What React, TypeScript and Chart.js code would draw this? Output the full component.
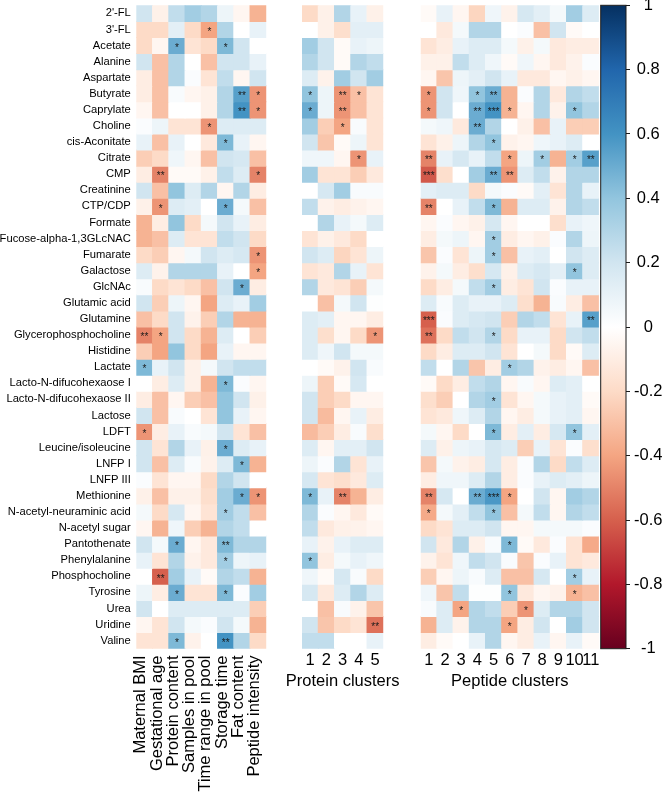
import React, { useEffect, useRef } from 'react';
import { Chart, registerables } from 'chart.js';

Chart.register(...registerables);
Chart.defaults.font.family = '"Liberation Sans", Arial, sans-serif';
Chart.defaults.color = '#000';

const FONT = '"Liberation Sans", Arial, sans-serif';

const metabolites = [
  "2'-FL", "3'-FL", 'Acetate', 'Alanine', 'Aspartate', 'Butyrate', 'Caprylate', 'Choline',
  'cis-Aconitate', 'Citrate', 'CMP', 'Creatinine', 'CTP/CDP', 'Formate', 'Fucose-alpha-1,3GLcNAC',
  'Fumarate', 'Galactose', 'GlcNAc', 'Glutamic acid', 'Glutamine', 'Glycerophosphocholine',
  'Histidine', 'Lactate', 'Lacto-N-difucohexaose I', 'Lacto-N-difucohexaose II', 'Lactose', 'LDFT',
  'Leucine/isoleucine', 'LNFP I', 'LNFP III', 'Methionine', 'N-acetyl-neuraminic acid',
  'N-acetyl sugar', 'Pantothenate', 'Phenylalanine', 'Phosphocholine', 'Tyrosine', 'Urea',
  'Uridine', 'Valine',
];

const clinicalLabels = [
  'Maternal BMI', 'Gestational age', 'Protein content', 'Samples in pool',
  'Time range in pool', 'Storage time', 'Fat content', 'Peptide intensity',
];
const proteinLabels = ['1', '2', '3', '4', '5'];
const peptideLabels = ['1', '2', '3', '4', '5', '6', '7', '8', '9', '10', '11'];
const colorbarTicks = [1, 0.8, 0.6, 0.4, 0.2, 0, -0.2, -0.4, -0.6, -0.8, -1];

// rows follow metabolites; columns follow clinicalLabels
const clinicalValues: number[][] = [
  [0.2, -0.08, 0.25, 0.35, 0.3, 0.08, -0.05, -0.35],
  [-0.2, -0.2, 0.12, -0.2, -0.4, 0.3, 0, 0.1],
  [-0.2, -0.05, 0.5, -0.15, -0.2, 0.45, 0.2, 0],
  [0.2, -0.3, 0.3, 0, -0.3, 0.2, 0.2, 0.1],
  [-0.1, -0.3, 0.3, 0.02, -0.15, 0.25, -0.05, 0.2],
  [-0.1, -0.3, 0.03, -0.05, -0.08, 0.3, 0.55, -0.45],
  [-0.05, -0.3, 0, 0, -0.08, 0.3, 0.6, -0.45],
  [0.02, 0.08, -0.15, -0.15, -0.45, 0.15, 0.15, 0.15],
  [0.1, -0.3, 0.1, 0, -0.12, 0.45, 0.1, -0.05],
  [-0.25, -0.2, 0.07, -0.05, -0.3, 0.2, 0.18, -0.3],
  [-0.1, -0.5, -0.03, -0.03, -0.08, 0.25, 0.15, -0.5],
  [0.2, -0.3, 0.4, 0.15, 0.3, -0.05, 0.3, -0.1],
  [-0.08, -0.45, 0.15, 0.12, 0, 0.5, 0.05, -0.3],
  [-0.35, -0.1, 0.4, -0.2, 0.05, 0.2, 0.1, -0.1],
  [-0.35, -0.3, 0.15, -0.15, -0.15, 0.25, 0.2, -0.2],
  [-0.2, -0.25, -0.05, 0.05, 0.2, 0.15, 0.18, -0.45],
  [0.15, -0.07, 0.3, 0.3, 0.3, 0.1, 0, -0.4],
  [0.03, -0.2, -0.15, -0.2, -0.3, 0.2, 0.5, -0.1],
  [0.2, -0.25, 0.08, -0.05, -0.4, 0.15, 0.1, 0.35],
  [-0.3, -0.2, 0.2, -0.07, -0.25, 0.3, -0.35, -0.35],
  [-0.5, -0.4, 0.2, -0.2, -0.35, 0.15, 0, -0.25],
  [-0.25, -0.4, 0.4, -0.2, -0.4, 0.1, -0.05, -0.05],
  [0.45, 0.1, 0.2, -0.08, 0.05, 0.2, 0.25, 0.25],
  [0, -0.1, 0.15, -0.08, -0.35, 0.45, 0.02, -0.05],
  [-0.1, -0.3, -0.05, -0.25, -0.3, 0.4, 0.2, -0.08],
  [0.2, -0.3, 0.03, 0, -0.15, 0.4, 0.1, -0.05],
  [-0.45, -0.1, 0.1, 0.03, 0.05, 0.2, -0.15, -0.3],
  [0.2, -0.15, 0.3, 0.1, -0.08, 0.5, 0.15, 0.1],
  [0.2, -0.3, 0.15, 0.03, -0.07, 0.15, 0.45, -0.35],
  [0.02, -0.15, -0.05, -0.05, -0.2, 0.3, 0.2, 0],
  [-0.08, -0.3, -0.08, -0.08, -0.18, 0.35, 0.5, -0.45],
  [0.05, -0.2, 0.18, -0.05, -0.15, 0.35, 0.25, -0.3],
  [-0.05, -0.35, 0.07, -0.25, -0.35, 0.3, 0.25, 0],
  [0.2, 0.05, 0.5, -0.05, -0.12, 0.45, 0.3, 0.3],
  [0.1, -0.15, 0.3, -0.07, -0.12, 0.35, 0.08, 0.1],
  [0, -0.6, 0.35, 0.1, -0.03, 0.3, 0.25, -0.35],
  [0.08, -0.1, 0.5, -0.15, -0.15, 0.45, 0.02, 0.35],
  [0.2, 0, 0.15, 0.15, 0.15, 0.15, 0.15, -0.25],
  [-0.05, -0.15, 0.2, 0.05, 0.02, 0.2, 0.05, -0.35],
  [-0.15, -0.15, 0.45, -0.07, 0, 0.6, 0.3, -0.2],
];

// rows follow metabolites; columns are protein clusters 1-5
const proteinValues: number[][] = [
  [-0.2, -0.08, 0.3, 0.1, -0.08],
  [0, -0.08, -0.18, 0.12, 0.12],
  [0.35, 0.2, -0.03, 0.1, 0.08],
  [0.3, 0.2, -0.03, 0.3, 0.25],
  [0.15, -0.07, 0.35, 0.2, 0.35],
  [0.4, 0.08, -0.45, -0.3, -0.15],
  [0.5, 0.08, -0.45, -0.3, -0.15],
  [0.35, -0.25, -0.4, 0.03, -0.15],
  [0.2, -0.28, -0.03, 0.08, -0.15],
  [0.07, 0.07, -0.05, -0.45, 0.1],
  [0.35, -0.15, -0.15, -0.25, -0.12],
  [0, 0.18, 0.35, 0.03, 0.03],
  [0.25, -0.07, -0.1, -0.07, -0.05],
  [0, 0.3, 0.1, 0.05, 0.15],
  [-0.15, -0.08, -0.12, -0.2, 0],
  [0.2, 0.15, -0.22, -0.15, 0.08],
  [-0.15, -0.12, 0.3, 0.1, -0.15],
  [0.3, -0.12, -0.15, -0.25, 0.05],
  [0, -0.3, 0.05, 0.2, 0.01],
  [0.15, 0.12, -0.05, -0.05, -0.1],
  [0.15, -0.18, -0.05, -0.2, -0.45],
  [0.15, 0.07, 0.2, 0.05, 0.05],
  [0, -0.03, -0.07, 0.2, 0.03],
  [0.08, -0.25, -0.03, 0.18, 0],
  [0.2, -0.25, -0.2, -0.05, -0.05],
  [0.2, -0.32, -0.05, 0.1, -0.1],
  [-0.32, -0.25, -0.1, 0.03, -0.18],
  [0.15, -0.05, 0.12, 0.12, 0.2],
  [0.08, 0.02, 0.3, -0.15, 0.1],
  [0.18, -0.15, -0.18, -0.12, 0.15],
  [0.45, 0.1, -0.5, -0.35, -0.1],
  [0.3, 0.02, -0.05, -0.12, -0.03],
  [0.25, -0.12, -0.08, -0.07, -0.05],
  [0.1, -0.07, 0.1, 0.15, 0.15],
  [0.4, -0.1, 0.05, 0.1, 0.07],
  [0.07, -0.03, 0.18, 0.03, -0.2],
  [0.18, -0.12, 0.15, 0.3, 0.15],
  [0, -0.3, 0.03, -0.07, -0.28],
  [0.2, -0.28, -0.2, -0.15, -0.55],
  [0.25, 0.25, 0, 0, 0.1],
];

// rows follow metabolites; columns are peptide clusters 1-11
const peptideValues: number[][] = [
  [-0.03, 0.1, -0.05, -0.22, 0.07, -0.07, 0.18, 0.12, 0.05, 0.35, 0.15],
  [0, -0.12, 0.05, 0.3, 0.3, 0, 0.02, -0.3, 0.2, -0.03, 0],
  [-0.15, -0.1, 0.1, 0.15, 0.15, 0.05, -0.08, 0.05, -0.12, -0.1, -0.1],
  [-0.08, -0.08, 0.25, 0.15, 0.07, -0.03, 0.07, -0.05, -0.12, -0.07, 0.02],
  [-0.05, -0.28, 0.08, 0.12, 0.2, 0.1, -0.12, -0.12, -0.05, -0.08, -0.05],
  [-0.45, 0.2, 0.07, 0.4, 0.5, -0.35, 0.02, 0.3, -0.12, 0.3, 0.25],
  [-0.45, 0.2, 0, 0.5, 0.6, -0.35, -0.05, 0.3, -0.07, 0.4, 0.3],
  [0.05, 0.07, -0.12, 0.5, 0.3, 0, -0.08, -0.3, 0.1, -0.25, -0.25],
  [-0.15, -0.08, 0.08, 0.3, 0.4, -0.07, -0.05, 0.07, 0.1, 0.15, 0],
  [-0.5, 0.1, 0.18, 0.1, 0.25, -0.4, 0.08, 0.35, -0.35, 0.35, 0.55],
  [-0.62, -0.18, 0, 0.35, 0.5, -0.45, 0.15, 0.25, -0.07, 0.3, 0.3],
  [0.12, 0.15, 0.15, -0.2, 0.05, 0.02, -0.03, 0.12, -0.15, 0.3, 0.1],
  [-0.5, 0, 0.1, 0.25, 0.45, -0.35, 0.15, 0.15, -0.07, 0.3, 0.25],
  [-0.05, 0.02, -0.05, -0.08, 0.18, -0.05, 0, 0, -0.18, 0.1, 0.07],
  [-0.1, 0.05, 0.08, -0.05, 0.35, -0.1, -0.05, -0.08, 0.02, 0.3, 0.08],
  [-0.28, 0.02, -0.15, 0.08, 0.35, -0.3, 0.1, 0.12, 0, 0.2, 0.15],
  [-0.07, 0.05, -0.1, -0.18, 0.18, -0.08, 0.15, 0.18, 0.12, 0.4, 0.15],
  [-0.2, -0.1, 0.05, 0.25, 0.35, -0.1, -0.15, 0.2, 0.02, 0.1, 0.1],
  [0.15, 0.03, 0.15, 0.1, 0.1, 0.15, -0.18, -0.35, 0.03, -0.1, -0.3],
  [-0.6, 0.02, 0.15, 0.18, 0.2, -0.25, 0.3, 0.25, -0.15, 0.1, 0.55],
  [-0.55, -0.2, 0.25, 0.2, 0.3, -0.2, 0.1, 0.1, -0.2, 0.2, 0.25],
  [-0.2, -0.1, 0.15, 0.15, 0.2, -0.15, 0, 0.05, -0.2, -0.03, 0.15],
  [0.25, 0, 0.3, -0.28, -0.1, 0.35, 0.3, -0.07, -0.1, -0.05, -0.3],
  [-0.03, -0.2, -0.1, 0.25, 0.3, -0.05, 0.03, -0.05, 0.15, 0.12, 0],
  [-0.18, -0.25, 0, 0.3, 0.35, -0.15, -0.05, 0.05, 0.1, 0.12, -0.03],
  [-0.15, -0.12, 0.07, 0.15, 0.3, -0.05, -0.1, 0.05, 0.1, 0.12, -0.05],
  [0.05, -0.05, -0.2, 0, 0.45, -0.1, 0.12, -0.1, 0.18, 0.4, 0.12],
  [0.15, -0.08, 0.08, 0.1, 0.18, 0.15, -0.25, 0.1, -0.15, 0.02, -0.18],
  [-0.28, 0.05, -0.07, -0.1, 0.18, -0.1, 0.02, 0.3, -0.2, 0.25, 0.15],
  [-0.1, 0.07, 0.07, 0.15, 0.3, -0.1, 0.02, 0.1, 0.15, 0.12, 0.08],
  [-0.5, 0.18, 0, 0.5, 0.58, -0.4, 0, 0.2, -0.05, 0.35, 0.3],
  [-0.38, 0.05, 0.12, 0.25, 0.4, -0.3, 0.05, 0.25, -0.05, 0.3, 0.25],
  [-0.2, -0.15, 0.15, 0.15, 0.2, -0.05, -0.05, 0.05, 0.05, 0.05, 0.02],
  [0.2, -0.12, 0.3, -0.08, 0.03, 0.45, -0.03, -0.12, 0.02, -0.15, -0.38],
  [-0.07, -0.15, 0.07, 0.25, 0.2, 0.03, -0.28, 0.02, 0.1, -0.15, -0.12],
  [-0.25, -0.05, 0.08, 0.03, 0.15, -0.3, -0.3, 0.18, 0, 0.35, 0.1],
  [0.07, -0.28, 0.25, 0.01, 0.01, 0.4, -0.12, -0.05, -0.07, -0.35, -0.3],
  [0.03, 0.15, -0.4, 0.3, 0.25, -0.25, -0.45, 0.15, 0.3, 0.3, 0.2],
  [-0.35, 0.15, -0.07, 0.3, 0.3, -0.4, -0.1, 0.2, 0, 0.35, 0.2],
  [-0.1, -0.03, 0, 0.1, 0.3, -0.05, -0.1, 0.1, -0.05, 0.1, -0.03],
];

// significance marks: [metabolite, column index, stars]
const clinicalStars: [string, number, string][] = [
  ["3'-FL", 4, '*'], ['Acetate', 2, '*'], ['Acetate', 5, '*'],
  ['Butyrate', 6, '**'], ['Butyrate', 7, '*'], ['Caprylate', 6, '**'], ['Caprylate', 7, '*'],
  ['Choline', 4, '*'], ['cis-Aconitate', 5, '*'], ['CMP', 1, '**'], ['CMP', 7, '*'],
  ['CTP/CDP', 1, '*'], ['CTP/CDP', 5, '*'], ['Fumarate', 7, '*'], ['Galactose', 7, '*'],
  ['GlcNAc', 6, '*'], ['Glycerophosphocholine', 0, '**'], ['Glycerophosphocholine', 1, '*'],
  ['Lactate', 0, '*'], ['Lacto-N-difucohexaose I', 5, '*'], ['LDFT', 0, '*'],
  ['Leucine/isoleucine', 5, '*'], ['LNFP I', 6, '*'], ['Methionine', 6, '*'], ['Methionine', 7, '*'],
  ['N-acetyl-neuraminic acid', 5, '*'], ['Pantothenate', 2, '*'], ['Pantothenate', 5, '**'],
  ['Phenylalanine', 5, '*'], ['Phosphocholine', 1, '**'], ['Tyrosine', 2, '*'], ['Tyrosine', 5, '*'],
  ['Valine', 2, '*'], ['Valine', 5, '**'],
];
const proteinStars: [string, number, string][] = [
  ['Butyrate', 0, '*'], ['Butyrate', 2, '**'], ['Butyrate', 3, '*'],
  ['Caprylate', 0, '*'], ['Caprylate', 2, '**'], ['Choline', 2, '*'], ['Citrate', 3, '*'],
  ['Glycerophosphocholine', 4, '*'], ['Methionine', 0, '*'], ['Methionine', 2, '**'],
  ['Phenylalanine', 0, '*'], ['Uridine', 4, '**'],
];
const peptideStars: [string, number, string][] = [
  ['Butyrate', 0, '*'], ['Butyrate', 3, '*'], ['Butyrate', 4, '**'],
  ['Caprylate', 0, '*'], ['Caprylate', 3, '**'], ['Caprylate', 4, '***'], ['Caprylate', 5, '*'], ['Caprylate', 9, '*'],
  ['Choline', 3, '**'], ['cis-Aconitate', 4, '*'],
  ['Citrate', 0, '**'], ['Citrate', 5, '*'], ['Citrate', 7, '*'], ['Citrate', 9, '*'], ['Citrate', 10, '**'],
  ['CMP', 0, '***'], ['CMP', 4, '**'], ['CMP', 5, '**'], ['CTP/CDP', 0, '**'], ['CTP/CDP', 4, '*'],
  ['Fucose-alpha-1,3GLcNAC', 4, '*'], ['Fumarate', 4, '*'], ['Galactose', 9, '*'], ['GlcNAc', 4, '*'],
  ['Glutamine', 0, '***'], ['Glutamine', 10, '**'], ['Glycerophosphocholine', 0, '**'],
  ['Glycerophosphocholine', 4, '*'], ['Lactate', 5, '*'], ['Lacto-N-difucohexaose II', 4, '*'],
  ['LDFT', 4, '*'], ['LDFT', 9, '*'], ['Methionine', 0, '**'], ['Methionine', 3, '**'],
  ['Methionine', 4, '***'], ['Methionine', 5, '*'], ['N-acetyl-neuraminic acid', 0, '*'],
  ['N-acetyl-neuraminic acid', 4, '*'], ['Pantothenate', 5, '*'], ['Phosphocholine', 9, '*'],
  ['Tyrosine', 5, '*'], ['Tyrosine', 9, '*'], ['Urea', 2, '*'], ['Urea', 6, '*'], ['Uridine', 5, '*'],
];

const RDBU = ['#67001F', '#B2182B', '#D6604D', '#F4A582', '#FDDBC7', '#FFFFFF', '#D1E5F0', '#92C5DE', '#4393C3', '#2166AC', '#053061'];

function hexToRgb(h: string) {
  return [parseInt(h.slice(1, 3), 16), parseInt(h.slice(3, 5), 16), parseInt(h.slice(5, 7), 16)];
}
function colorFor(v: number) {
  const t = ((Math.max(-1, Math.min(1, v)) + 1) / 2) * 10;
  const i = Math.min(9, Math.floor(t));
  const f = t - i;
  const a = hexToRgb(RDBU[i]);
  const b = hexToRgb(RDBU[i + 1]);
  const c = a.map((x, k) => Math.round(x + (b[k] - x) * f));
  return `rgb(${c[0]},${c[1]},${c[2]})`;
}

const H = 794;
const TOP = 5.3;
const BOTTOM = 648.7;
const BIG = 16.5;

function heatmapConfig(p: {
  labels: string[]; values: number[][]; stars: [string, number, string][];
  showRows: boolean; rotate: boolean; title?: string; padLeft: number; padRight: number;
}): any {
  const datasets = p.values.map((row, r) => ({
    data: row.map(() => [r, r + 1]),
    backgroundColor: row.map((v) => colorFor(v)),
    borderWidth: 0,
    barPercentage: 1,
    categoryPercentage: 1,
    grouped: false,
    inflateAmount: 0.5,
  }));
  const overlay = {
    id: 'overlay',
    afterDatasetsDraw(chart: any) {
      const { ctx } = chart;
      const xs = chart.scales.x;
      const ys = chart.scales.y;
      ctx.save();
      ctx.font = `10px ${FONT}`;
      ctx.fillStyle = '#1a1a1a';
      ctx.textAlign = 'center';
      ctx.textBaseline = 'middle';
      p.stars.forEach(([name, col, s]) => {
        const r = metabolites.indexOf(name);
        ctx.fillText(s, xs.getPixelForValue(col), ys.getPixelForValue(r + 0.5) + 2.5);
      });
      ctx.restore();
    },
    afterDraw(chart: any) {
      const { ctx, chartArea } = chart;
      const xs = chart.scales.x;
      ctx.save();
      ctx.font = `${BIG}px ${FONT}`;
      ctx.fillStyle = '#000';
      if (p.rotate) {
        ctx.textAlign = 'right';
        ctx.textBaseline = 'alphabetic';
        p.labels.forEach((lab, i) => {
          ctx.save();
          ctx.translate(xs.getPixelForValue(i) + 1, BOTTOM + 6.8);
          ctx.rotate(-Math.PI / 2);
          ctx.fillText(lab, 0, 0);
          ctx.restore();
        });
      }
      if (p.title) {
        ctx.textAlign = 'center';
        ctx.textBaseline = 'middle';
        ctx.fillText(p.title, (chartArea.left + chartArea.right) / 2, 681);
      }
      ctx.restore();
    },
  };
  return {
    type: 'bar',
    data: { labels: p.labels, datasets },
    plugins: [overlay],
    options: {
      responsive: false,
      animation: false,
      events: [],
      layout: { padding: { top: TOP, bottom: 0, left: p.padLeft, right: p.padRight }, autoPadding: false },
      plugins: { legend: { display: false }, tooltip: { enabled: false } },
      scales: {
        x: {
          type: 'category',
          offset: true,
          grid: { display: false, drawTicks: false },
          border: { display: false },
          ticks: p.rotate
            ? { display: false }
            : { minRotation: 0, maxRotation: 0, autoSkip: false, padding: 2, font: { size: BIG }, color: '#000' },
          afterFit: (s: any) => {
            s.height = H - BOTTOM;
            s.paddingLeft = 0;
            s.paddingRight = 0;
          },
        },
        y: {
          type: 'linear',
          min: 0,
          max: metabolites.length,
          reverse: true,
          display: p.showRows,
          grid: { display: false, drawTicks: false },
          border: { display: false },
          afterBuildTicks: (s: any) => {
            s.ticks = metabolites.map((_, i) => ({ value: i + 0.5 }));
          },
          ticks: {
            autoSkip: false,
            padding: 5.5,
            font: { size: 11.2 },
            color: '#000',
            callback: (_v: any, i: number) => metabolites[i],
          },
          afterFit: (s: any) => {
            s.width = p.showRows ? 136.3 - p.padLeft : 0;
            s.paddingTop = 0;
            s.paddingBottom = 0;
          },
        },
      },
    },
  };
}

function colorbarConfig(): any {
  const borderPlugin = {
    id: 'cbBorder',
    afterDatasetsDraw(chart: any) {
      const { ctx, chartArea: a } = chart;
      ctx.save();
      ctx.strokeStyle = '#1a1a1a';
      ctx.lineWidth = 1;
      ctx.strokeRect(a.left, a.top, a.right - a.left, a.bottom - a.top);
      ctx.restore();
    },
  };
  return {
    type: 'bar',
    data: {
      labels: [''],
      datasets: [{
        data: [[-1, 1]],
        backgroundColor: (c: any) => {
          const chart = c.chart;
          const ys = chart.scales.y;
          if (!ys || !chart.chartArea) return '#fff';
          const g = chart.ctx.createLinearGradient(0, ys.getPixelForValue(-1), 0, ys.getPixelForValue(1));
          RDBU.forEach((col, i) => g.addColorStop(i / 10, col));
          return g;
        },
        borderWidth: 0,
        barPercentage: 1,
        categoryPercentage: 1,
        inflateAmount: 0,
      }],
    },
    plugins: [borderPlugin],
    options: {
      responsive: false,
      animation: false,
      events: [],
      layout: { padding: { top: TOP, bottom: H - BOTTOM, left: 0.7, right: 0 }, autoPadding: false },
      plugins: { legend: { display: false }, tooltip: { enabled: false } },
      scales: {
        x: { display: false, offset: true },
        y: {
          type: 'linear',
          position: 'right',
          min: -1,
          max: 1,
          grid: { drawOnChartArea: false, drawTicks: true, tickLength: 4, color: '#1a1a1a', lineWidth: 1 },
          border: { display: false },
          afterBuildTicks: (s: any) => {
            s.ticks = colorbarTicks.map((v) => ({ value: v }));
          },
          ticks: {
            autoSkip: false,
            padding: 4,
            crossAlign: 'center',
            font: { size: BIG },
            color: '#000',
            callback: (v: any) => String(v),
          },
          afterFit: (s: any) => {
            s.width = 40;
            s.paddingTop = 0;
            s.paddingBottom = 0;
          },
        },
      },
    },
  };
}

function ChartCanvas({ left, width, config }: { left: number; width: number; config: () => any }) {
  const ref = useRef<HTMLCanvasElement>(null);
  useEffect(() => {
    if (!ref.current) return;
    const chart = new Chart(ref.current, config());
    return () => chart.destroy();
  }, []);
  return (
    <canvas
      ref={ref}
      width={width}
      height={H}
      style={{ position: 'absolute', left, top: 0, width, height: H }}
    />
  );
}

export default function App() {
  return (
    <div style={{ position: 'absolute', left: 0, top: 0, width: 666, height: H, background: '#fff', overflow: 'hidden' }}>
      <ChartCanvas
        left={0}
        width={280}
        config={() => heatmapConfig({ labels: clinicalLabels, values: clinicalValues, stars: clinicalStars, showRows: true, rotate: true, padLeft: 0, padRight: 280 - 266.3 })}
      />
      <ChartCanvas
        left={280}
        width={135}
        config={() => heatmapConfig({ labels: proteinLabels, values: proteinValues, stars: proteinStars, showRows: false, rotate: false, title: 'Protein clusters', padLeft: 302 - 280, padRight: 415 - 383.3 })}
      />
      <ChartCanvas
        left={415}
        width={185}
        config={() => heatmapConfig({ labels: peptideLabels, values: peptideValues, stars: peptideStars, showRows: false, rotate: false, title: 'Peptide clusters', padLeft: 420.7 - 415, padRight: 600 - 598.9 })}
      />
      <ChartCanvas left={600} width={66} config={colorbarConfig} />
    </div>
  );
}
